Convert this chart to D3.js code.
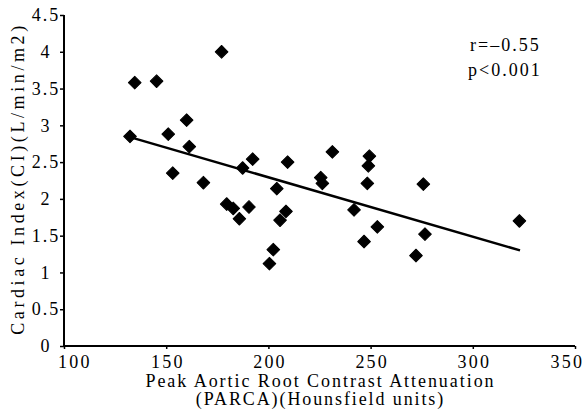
<!DOCTYPE html>
<html>
<head>
<meta charset="utf-8">
<script src="https://cdn.jsdelivr.net/npm/d3@7"></script>
<style>
  html, body { margin: 0; padding: 0; background: #fff; }
  svg text { font-family: "Liberation Serif", "Times New Roman", serif; fill: #000; }
</style>
</head>
<body>
<svg id="chart" width="583" height="411"></svg>
<script>
// ---- data ----
const parca = [132.3, 134.6, 145.3, 177.1, 151.0, 160.0, 161.3, 153.2, 168.2, 187.4,
               192.3, 204.1, 209.4, 179.6, 182.8, 185.8, 190.5, 208.6, 205.7, 202.4,
               200.5, 231.3, 225.6, 226.4, 249.4, 248.9, 248.4, 241.9, 253.3, 246.8,
               275.8, 276.6, 272.2, 322.8];
const cardiacIndex = [2.85, 3.58, 3.60, 4.00, 2.88, 3.07, 2.71, 2.35, 2.22, 2.42,
                      2.54, 2.14, 2.50, 1.93, 1.87, 1.73, 1.89, 1.83, 1.71, 1.31,
                      1.12, 2.64, 2.29, 2.21, 2.58, 2.45, 2.21, 1.85, 1.62, 1.42,
                      2.20, 1.52, 1.23, 1.70];
const trendX = [132.3, 323.1];
const trendY = [2.84, 1.30];
const xTicks = [100, 150, 200, 250, 300, 350];
const yTicks = [0, 0.5, 1, 1.5, 2, 2.5, 3, 3.5, 4, 4.5];
const xTitle = ["Peak Aortic Root Contrast Attenuation", "(PARCA)(Hounsfield units)"];
const yTitle = "Cardiac Index(CI)(L/min/m2)";
const notes = ["r=\u20130.55", "p<0.001"];

// ---- layout ----
const W = 583;
const svg = d3.select("#chart");
const mLeft = 64, mRight = 575, mTop = 15, mBottom = 346;

const x = d3.scaleLinear().domain([100, 350]).range([mLeft, mRight]);
const y = d3.scaleLinear().domain([0, 4.5]).range([mBottom, mTop]);

// y axis (labels centred in a column left of the axis, as in the reference)
const yLS = 2;
const yAxis = svg.append("g")
  .attr("transform", `translate(${mLeft},0)`)
  .call(d3.axisLeft(y).tickValues(yTicks).tickSize(4).tickPadding(15)
        .tickFormat(d => String(d)));
yAxis.select(".domain").attr("stroke", "#000").attr("stroke-width", 2)
  .attr("d", `M0,${mTop}V${mBottom}`);
yAxis.selectAll(".tick line").attr("stroke", "#000").attr("stroke-width", 1.5);
yAxis.selectAll(".tick text").attr("font-size", 18).attr("letter-spacing", yLS)
  .attr("fill", "#000").attr("text-anchor", "middle").attr("dx", yLS / 2);

// x axis
const xLS = 2.2;
const xAxis = svg.append("g")
  .attr("transform", `translate(0,${mBottom})`)
  .call(d3.axisBottom(x).tickValues(xTicks).tickSize(3).tickPadding(6)
        .tickFormat(d => String(d)));
xAxis.select(".domain").attr("stroke", "#000").attr("stroke-width", 2)
  .attr("d", `M${mLeft},0H${mRight}`);
xAxis.selectAll(".tick line").attr("stroke", "#000").attr("stroke-width", 1.5);
xAxis.selectAll(".tick text").attr("font-size", 18).attr("letter-spacing", xLS)
  .attr("fill", "#000").attr("dx", xLS / 2)
  .each(function () {
    // keep the end labels clear of the "0" label and of the picture edge, as in the reference
    const t = d3.select(this);
    const tick = d3.select(this.parentNode);
    const tx = +tick.attr("transform").match(/translate\(([-\d.]+)/)[1];
    const w = this.getComputedTextLength() - xLS;
    const rightOver = tx + w / 2 - (W - 1);
    const leftOver = (mLeft - 6) - (tx - w / 2);
    if (rightOver > 0) t.attr("dx", xLS / 2 - rightOver);
    else if (leftOver > 0) t.attr("dx", xLS / 2 + leftOver);
  });

// axis titles
svg.append("text")
  .attr("x", (mLeft + mRight) / 2 + 1).attr("y", 387)
  .attr("text-anchor", "middle").attr("font-size", 18).attr("letter-spacing", 1.95)
  .text(xTitle[0]);
svg.append("text")
  .attr("x", (mLeft + mRight) / 2 + 1).attr("y", 405)
  .attr("text-anchor", "middle").attr("font-size", 18).attr("letter-spacing", 1.9)
  .text(xTitle[1]);
svg.append("text")
  .attr("transform", `translate(24,${(mTop + mBottom) / 2 - 2}) rotate(-90)`)
  .attr("text-anchor", "middle").attr("font-size", 18).attr("letter-spacing", 3.6)
  .text(yTitle);

// trend line
const pts = trendX.map((d, i) => [d, trendY[i]]);
svg.append("path")
  .attr("d", d3.line().x(d => x(d[0])).y(d => y(d[1]))(pts))
  .attr("fill", "none").attr("stroke", "#000").attr("stroke-width", 2.5);

// markers (diamonds)
const diamond = d3.symbol().type(d3.symbolSquare).size(80);
svg.append("g").selectAll("path")
  .data(parca.map((d, i) => [d, cardiacIndex[i]]))
  .join("path")
  .attr("d", diamond)
  .attr("transform", d => `translate(${x(d[0])},${y(d[1])}) rotate(45)`)
  .attr("fill", "#000").attr("stroke", "#000").attr("stroke-width", 1)
  .attr("stroke-linejoin", "round");

// annotation
svg.append("text").attr("x", 470).attr("y", 51).attr("font-size", 18)
  .attr("letter-spacing", 2).text(notes[0]);
svg.append("text").attr("x", 468).attr("y", 76).attr("font-size", 18)
  .attr("letter-spacing", 2).text(notes[1]);
</script>
</body>
</html>
